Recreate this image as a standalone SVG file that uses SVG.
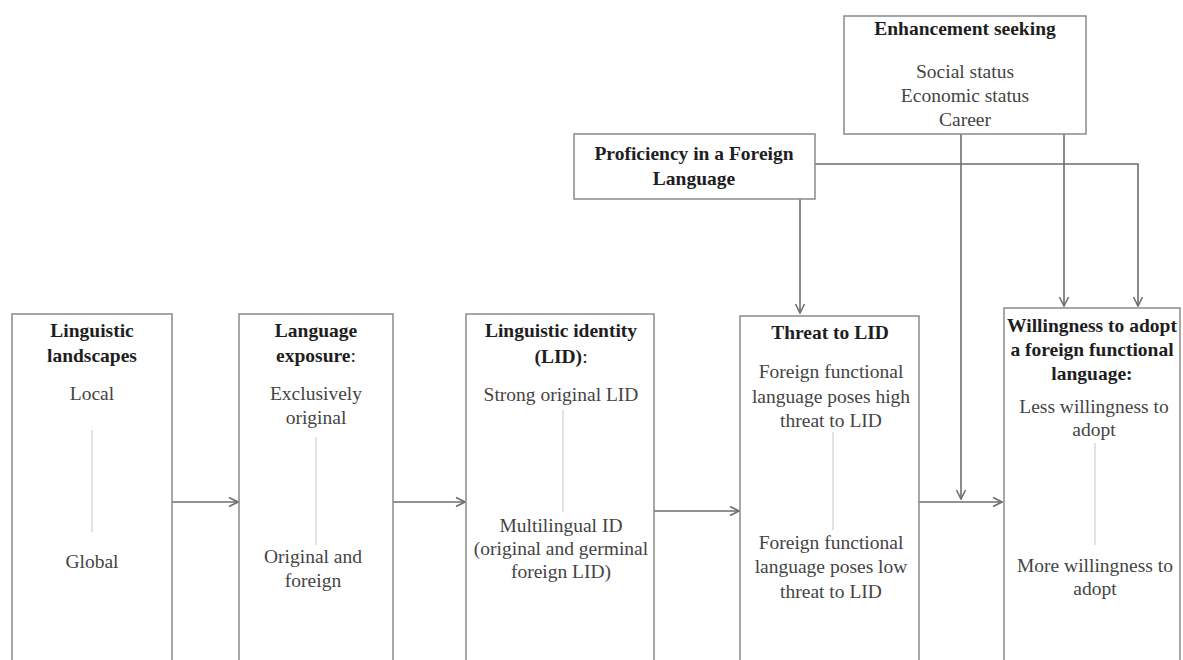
<svg xmlns="http://www.w3.org/2000/svg" width="1183" height="660" viewBox="0 0 1183 660">
<style>
.box{fill:#fff;stroke:#8a8a8a;stroke-width:1.5}
text{font-family:'Liberation Serif','DejaVu Serif',serif;font-size:19.5px;text-anchor:middle}
.h{font-weight:bold;fill:#1e1e1e}
.r{fill:#444}
.div{stroke:#c4c4c4;stroke-width:1}
.c{fill:none;stroke:#6e6e6e;stroke-width:1.6}
</style>
<defs>
<marker id="arr" viewBox="0 0 12 12" refX="11" refY="6" markerWidth="12" markerHeight="12" markerUnits="userSpaceOnUse" orient="auto">
<path d="M2,1.5 L11,6 L2,10.5" fill="none" stroke="#6e6e6e" stroke-width="1.6"/>
</marker>
</defs>
<rect width="1183" height="660" fill="#fff"/>
<g id="connectors">
<line class="c" x1="172" y1="502" x2="238" y2="502" marker-end="url(#arr)"/>
<line class="c" x1="393" y1="502" x2="465" y2="502" marker-end="url(#arr)"/>
<line class="c" x1="654" y1="511" x2="739" y2="511" marker-end="url(#arr)"/>
<line class="c" x1="919" y1="502" x2="1002" y2="502" marker-end="url(#arr)"/>
<line class="c" x1="800" y1="199" x2="800" y2="313" marker-end="url(#arr)"/>
<polyline class="c" points="815,164 1138,164 1138,306" marker-end="url(#arr)"/>
<line class="c" x1="1064" y1="134" x2="1064" y2="306" marker-end="url(#arr)"/>
<line class="c" x1="961" y1="134" x2="961" y2="499" marker-end="url(#arr)"/>
</g>
<g id="enhancement">
<rect class="box" x="844" y="16" width="242" height="118"/>
<text class="h" x="965" y="35">Enhancement seeking</text>
<text class="r" x="965" y="78">Social status</text>
<text class="r" x="965" y="102">Economic status</text>
<text class="r" x="965" y="126">Career</text>
</g>
<g id="proficiency">
<rect class="box" x="574" y="134" width="241" height="65"/>
<text class="h" x="694" y="160">Proficiency in a Foreign</text>
<text class="h" x="694" y="185">Language</text>
</g>
<g id="landscapes">
<rect class="box" x="12" y="314" width="160" height="370"/>
<text class="h" x="92" y="337">Linguistic</text>
<text class="h" x="92" y="362">landscapes</text>
<text class="r" x="92" y="400">Local</text>
<line class="div" x1="92" y1="430" x2="92" y2="532"/>
<text class="r" x="92" y="568">Global</text>
</g>
<g id="exposure">
<rect class="box" x="239" y="314" width="154" height="370"/>
<text class="h" x="316" y="337">Language</text>
<text class="h" x="316" y="362">exposure<tspan font-weight="normal">:</tspan></text>
<text class="r" x="316" y="400">Exclusively</text>
<text class="r" x="316" y="424">original</text>
<line class="div" x1="316" y1="437" x2="316" y2="545"/>
<text class="r" x="313" y="563">Original and</text>
<text class="r" x="313" y="587">foreign</text>
</g>
<g id="identity">
<rect class="box" x="466" y="314" width="188" height="370"/>
<text class="h" x="561" y="337">Linguistic identity</text>
<text class="h" x="561" y="363">(LID)<tspan font-weight="normal">:</tspan></text>
<text class="r" x="561" y="401">Strong original LID</text>
<line class="div" x1="563" y1="410" x2="563" y2="512"/>
<text class="r" x="561" y="532">Multilingual ID</text>
<text class="r" x="561" y="555">(original and germinal</text>
<text class="r" x="561" y="578">foreign LID)</text>
</g>
<g id="threat">
<rect class="box" x="740" y="316" width="179" height="370"/>
<text class="h" x="830" y="339">Threat to LID</text>
<text class="r" x="831" y="378">Foreign functional</text>
<text class="r" x="831" y="403">language poses high</text>
<text class="r" x="831" y="427">threat to LID</text>
<line class="div" x1="833" y1="432" x2="833" y2="530"/>
<text class="r" x="831" y="549">Foreign functional</text>
<text class="r" x="831" y="573">language poses low</text>
<text class="r" x="831" y="598">threat to LID</text>
</g>
<g id="willingness">
<rect class="box" x="1004" y="308" width="176" height="378"/>
<text class="h" x="1092" y="332">Willingness to adopt</text>
<text class="h" x="1092" y="356">a foreign functional</text>
<text class="h" x="1092" y="380">language:</text>
<text class="r" x="1094" y="413">Less willingness to</text>
<text class="r" x="1094" y="436">adopt</text>
<line class="div" x1="1095" y1="443" x2="1095" y2="545"/>
<text class="r" x="1095" y="572">More willingness to</text>
<text class="r" x="1095" y="595">adopt</text>
</g>
</svg>
